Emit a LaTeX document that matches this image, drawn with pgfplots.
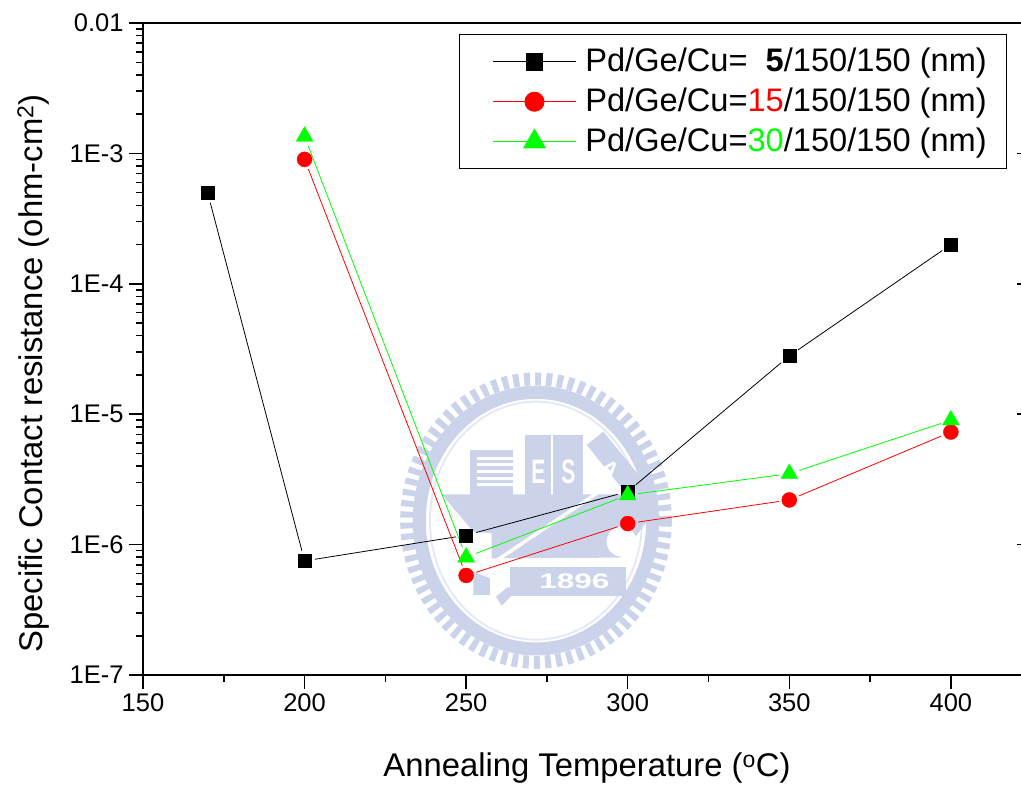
\documentclass[border=0pt]{standalone}
\usepackage{pgfplots}
\pgfplotsset{compat=1.18}
\usepackage{fontspec}
\setmainfont{Liberation Sans}
\definecolor{wm}{RGB}{203,211,234}
\definecolor{wmr}{RGB}{228,233,245}
\pgfplotsset{seg/.style={forget plot,line width=0.8pt,no marks,shorten >=10.5pt,shorten <=10.5pt}}
\begin{document}
\begin{tikzpicture}
\path[use as bounding box] (0pt,0pt) rectangle (1021pt,789pt);
% watermark (pale university seal behind the plot)
\begin{scope}[shift={(390pt,424pt)},x=0.3333pt,y=-0.3333pt]
\draw[wm,line width=13pt,dash pattern=on 6pt off 5pt] (438,467) ellipse[x radius=388,y radius=425];
\draw[wm,line width=13pt] (438,467) ellipse[x radius=350,y radius=385];
\draw[wmr,line width=2pt] (474,467) ++(-36,0) ellipse[x radius=318,y radius=357];
\fill[wm] (240,255) rectangle (370,390);
\fill[wm] (405,210) rectangle (482,390);
\fill[wm] (490,210) rectangle (580,390);
\fill[wm] (590,240)--(640,200)--(795,390)--(720,400)--cycle;
\fill[wm] (155,388)--(800,388)--(770,470)--(690,578)--(305,580)--(305,505)--(250,500)--cycle;
\fill[wm] (360,605) rectangle (708,692);
\fill[wm] (250,620)--(300,640)--(300,690)--(250,690)--cycle;
\fill[wm] (318,695)--(355,665)--(372,685)--(335,722)--cycle;
\foreach \yy in {275,295,315,335,355}{\fill[white] (262,\yy) rectangle (368,\yy+9);}
\draw[white,line width=3.5pt] (300,600)--(650,365);
\fill[white] (695,530) circle[radius=45];
\node[white,font=\bfseries\fontsize{34}{36}\selectfont,xscale=0.62] at (445,320) {E};
\node[white,font=\bfseries\fontsize{34}{36}\selectfont,xscale=0.62] at (535,320) {S};
\node[white,font=\bfseries\fontsize{22}{24}\selectfont,rotate=-40] at (660,310) {A};
\node[white,font=\bfseries\fontsize{21}{22}\selectfont,xscale=1.5] at (553,648) {1896};
\end{scope}
\begin{axis}[at={(143pt,114pt)},anchor=south west,width=878pt,height=652pt,scale only axis,
xmin=150,xmax=421.7,ymode=log,ymin=1e-7,ymax=0.01,
axis lines=left,axis line style={line width=1.7pt,-},
xtick={150,200,250,300,350,400},minor xtick={175,225,275,325,375},
ytick={1e-7,1e-6,1e-5,1e-4,1e-3,1e-2},
yticklabels={1E-7,1E-6,1E-5,1E-4,1E-3,0.01},
tick style={line width=1.5pt,black},
tick align=outside,
major tick length=14pt,minor tick length=7pt,
tick label style={font=\fontsize{25.5}{28}\selectfont},
xticklabel style={yshift=-1pt},
yticklabel style={xshift=-2pt},
/pgf/number format/assume math mode=true,
xlabel={Annealing Temperature (\textsuperscript{o}C)},
ylabel={Specific Contact resistance (ohm-cm\textsuperscript{2})},
label style={font=\fontsize{32.8}{36}\selectfont},
x label style={at={(axis description cs:0.5057,-0.143)},anchor=center},
y label style={at={(axis description cs:-0.125,0.4624)},anchor=center},
legend image code/.code={\path (-13pt,0pt) (92pt,0pt);
  \draw[#1,mark=none] plot coordinates {(0pt,0pt)(83pt,0pt)};
  \draw[#1] plot[only marks] coordinates {(41.5pt,0pt)};},
legend style={at={(rel axis cs:0.9846,0.983)},anchor=north east,draw=black,line width=1.3pt,fill=white,
  font=\fontsize{32.6}{36}\selectfont,inner xsep=20pt,inner ysep=11pt,
  nodes={inner xsep=0pt,inner ysep=0pt,text height=26pt,text depth=6pt},
  row sep=8pt},
legend cell align=left,
clip=false]
\draw[line width=1.7pt] (rel axis cs:0,1)--(rel axis cs:1,1);
\draw[line width=1.5pt] (axis cs:420.4,1e-3)--(axis cs:421.7,1e-3);
\draw[line width=1.5pt] (axis cs:420.4,1e-4)--(axis cs:421.7,1e-4);
\draw[line width=1.5pt] (axis cs:420.4,1e-5)--(axis cs:421.7,1e-5);
\draw[line width=1.5pt] (axis cs:420.4,1e-6)--(axis cs:421.7,1e-6);
% black
\addplot[seg,black] coordinates {(170,5e-4)(200,7.5e-7)};
\addplot[seg,black] coordinates {(200,7.5e-7)(250,1.18e-6)};
\addplot[seg,black] coordinates {(250,1.18e-6)(300,2.55e-6)};
\addplot[seg,black] coordinates {(300,2.55e-6)(350,2.8e-5)};
\addplot[seg,black] coordinates {(350,2.8e-5)(400,2e-4)};
% red
\addplot[seg,red] coordinates {(200,9e-4)(250,5.8e-7)};
\addplot[seg,red] coordinates {(250,5.8e-7)(300,1.45e-6)};
\addplot[seg,red] coordinates {(300,1.45e-6)(350,2.2e-6)};
\addplot[seg,red] coordinates {(350,2.2e-6)(400,7.3e-6)};
% green
\addplot[seg,green] coordinates {(200,1.35e-3)(250,8e-7)};
\addplot[seg,green] coordinates {(250,8e-7)(300,2.4e-6)};
\addplot[seg,green] coordinates {(300,2.4e-6)(350,3.5e-6)};
\addplot[seg,green] coordinates {(350,3.5e-6)(400,9e-6)};
% markers
\addplot[only marks,forget plot,black,mark=square*,mark size=6.5pt] coordinates {(170,5e-4)(200,7.5e-7)(250,1.18e-6)(300,2.55e-6)(350,2.8e-5)(400,2e-4)};
\addplot[only marks,forget plot,red,mark=*,mark size=7.5pt] coordinates {(200,9e-4)(250,5.8e-7)(300,1.45e-6)(350,2.2e-6)(400,7.3e-6)};
\addplot[only marks,forget plot,green,mark=triangle*,mark size=9.7pt] coordinates {(200,1.35e-3)(250,8e-7)(300,2.4e-6)(350,3.5e-6)(400,9e-6)};
% legend samples
\addlegendimage{black,line width=0.8pt,mark=square*,mark size=8.2pt}
\addlegendentry{Pd/Ge/Cu=\hspace{0.28em} \textbf{5}/150/150 (nm)}
\addlegendimage{red,line width=0.8pt,mark=*,mark size=9.6pt}
\addlegendentry{Pd/Ge/Cu=\textcolor{red}{15}/150/150 (nm)}
\addlegendimage{green,line width=0.8pt,mark=triangle*,mark size=12.5pt}
\addlegendentry{Pd/Ge/Cu=\textcolor{green}{30}/150/150 (nm)}
\end{axis}
\end{tikzpicture}
\end{document}
